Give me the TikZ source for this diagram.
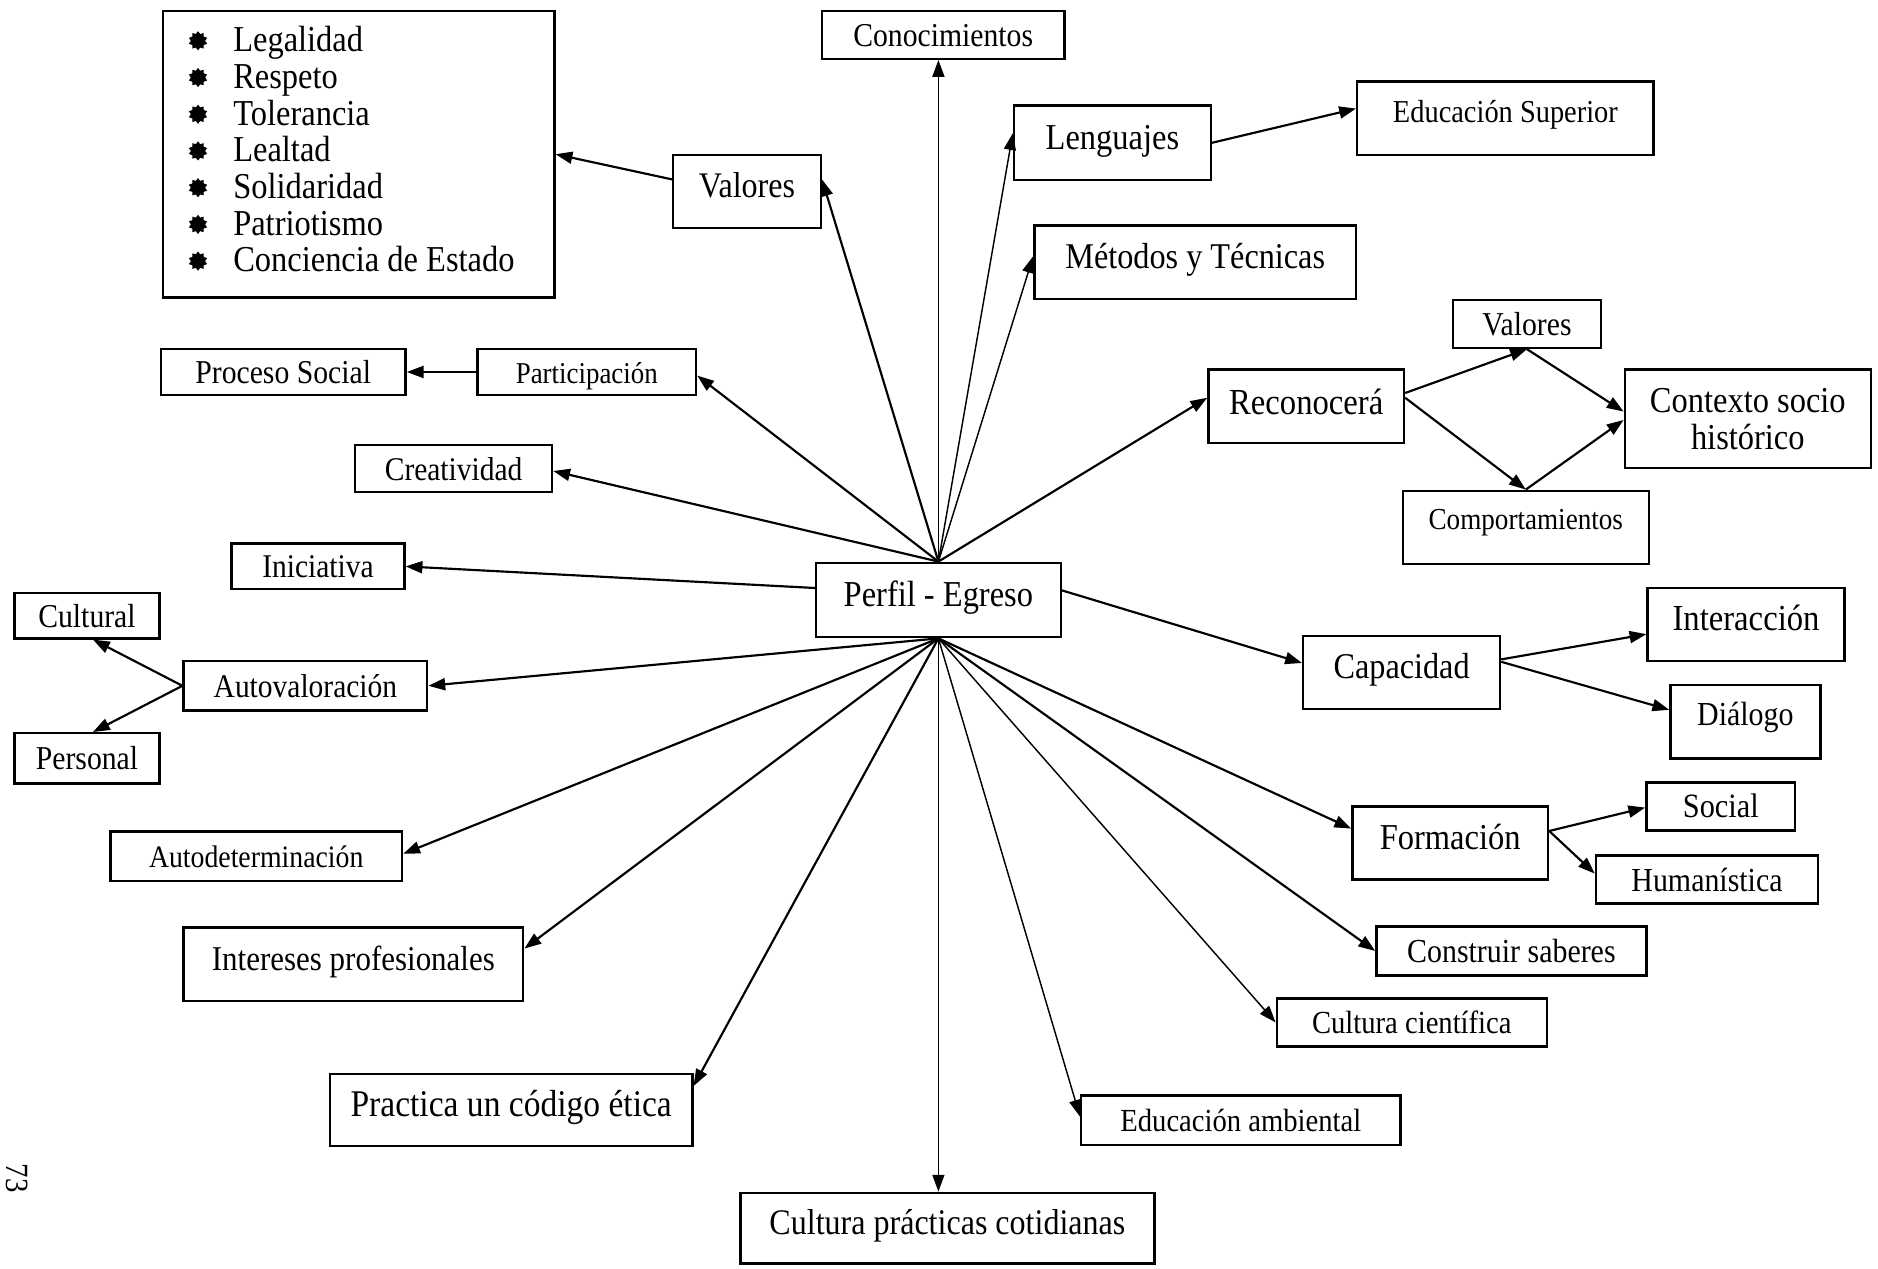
\documentclass[tikz,border=0pt]{standalone}
\usepackage{fontspec}
\setmainfont{Liberation Serif}[FakeStretch=0.89]
\usetikzlibrary{arrows.meta,shapes.geometric,calc}
\begin{document}
\begin{tikzpicture}[x=0.5pt,y=-0.5pt,
  bx/.style={draw, line width=1pt, inner sep=0pt, text height=0.72em, text depth=0.2em},
  low/.style={text height=1.16em},
  area/.style n args={4}{at={({(#1+#3)/2},{(#2+#4)/2})}, minimum width={(#3-#1)*0.5pt}, minimum height={(#4-#2)*0.5pt}},
  fs/.style={font=\fontsize{#1}{#1}\selectfont},
  con/.style={line width=0.9pt, -{Triangle[length=7pt,width=5pt]}},
  thinline/.style={line width=0.6pt},
  bul/.style={star, star points=10, star point ratio=1.35, fill, inner sep=0pt, minimum size=8pt},
  listitem/.style={anchor=base west, inner sep=0pt, fs=15.2}]
\useasboundingbox (0,0) rectangle (1565,1057.5);

% list of values
\node[bx, area={136}{9}{462}{248}] (lista) {};
\foreach \t [count=\i] in {Legalidad,Respeto,Tolerancia,Lealtad,Solidaridad,Patriotismo,Conciencia de Estado}{
  \pgfmathsetmacro\yy{34+30.6*(\i-1)}
  \node[bul] (bul\i) at (165,\yy) {};
  \node[listitem] (item\i) at (194,\yy+9) {\t};
}

% boxes
\node[bx, low, fs=13.9, area={685}{9}{887}{49}] (conoc) {Conocimientos};
\node[bx, fs=15.2, area={845}{88}{1009}{150}] (leng) {Lenguajes};
\node[bx, fs=13.3, text height=0.57em, area={1131}{68}{1378}{129}] (edsup) {Educación Superior};
\node[bx, fs=15.0, area={561}{129}{684}{190}] (valL) {Valores};
\node[bx, fs=15.1, area={862}{188}{1130}{249}] (metodos) {Métodos y Técnicas};
\node[bx, low, fs=13.9, area={1211}{250}{1334}{290}] (valS) {Valores};
\node[bx, low, fs=13.9, area={134}{291}{338}{329}] (procsoc) {Proceso Social};
\node[bx, low, fs=12.6, area={398}{291}{580}{329}] (partic) {Participación};
\node[bx, fs=15.3, text height=0.9em, area={1007}{308}{1170}{369}] (recon) {Reconocerá};
\node[draw, line width=1pt, inner sep=0pt, align=center, font=\fontsize{15.2}{15.5}\selectfont, area={1354}{308}{1559}{390}] (ctx) {Contexto socio\\histórico};
\node[bx, low, fs=13.8, area={296}{371}{460}{410}] (creat) {Creatividad};
\node[bx, fs=12.7, text height=0.41em, area={1169}{409}{1374}{470}] (comport) {Comportamientos};
\node[bx, low, fs=13.8, area={193}{453}{337}{491}] (inic) {Iniciativa};
\node[bx, fs=15.2, area={680}{469}{884}{531}] (perfil) {Perfil - Egreso};
\node[bx, low, fs=13.9, area={12}{494}{133}{532}] (cultural) {Cultural};
\node[bx, fs=15.1, area={1086}{530}{1250}{591}] (capac) {Capacidad};
\node[bx, fs=15.3, area={1373}{490}{1537}{551}] (interac) {Interacción};
\node[bx, low, fs=13.8, area={153}{551}{356}{592}] (autoval) {Autovaloración};
\node[bx, fs=14.0, text height=0.5em, area={1392}{571}{1517}{632}] (dialogo) {Diálogo};
\node[bx, low, fs=13.9, area={12}{611}{133}{653}] (personal) {Personal};
\node[bx, fs=15.2, area={1127}{672}{1290}{733}] (form) {Formación};
\node[bx, low, fs=14.2, area={1372}{652}{1496}{692}] (social) {Social};
\node[bx, low, fs=14.0, area={1330}{713}{1515}{753}] (human) {Humanística};
\node[bx, low, fs=13.0, area={92}{693}{335}{734}] (autodet) {Autodeterminación};
\node[bx, low, fs=14.0, area={1147}{772}{1372}{813}] (constr) {Construir saberes};
\node[bx, fs=14.5, area={153}{773}{436}{834}] (inter) {Intereses profesionales};
\node[bx, low, fs=13.4, area={1064}{832}{1289}{872}] (cultc) {Cultura científica};
\node[bx, fs=15.7, area={275}{895}{577}{955}] (practica) {Practica un código ética};
\node[bx, low, fs=13.4, area={901}{913}{1167}{954}] (edamb) {Educación ambiental};
\node[bx, fs=15.0, area={617}{994}{962}{1053}] (cultp) {Cultura prácticas cotidianas};

\node[rotate=-90, fs=13.5, inner sep=0pt] (pagina) at (14,982) {73};

% connectors from Perfil - Egreso (upwards)
\draw[con, thinline] (perfil.north) -- (perfil.north |- conoc.south);
\draw[con] (perfil.north) -- ([shift={(0,-10)}]valL.east);
\draw[con, thinline] (perfil.north) -- ([shift={(0,-8)}]leng.west);
\draw[con, thinline] (perfil.north) -- ([shift={(0,-5)}]metodos.west);
\draw[con] (perfil.north) -- ([shift={(0,3)}]partic.east);
\draw[con] (perfil.north) -- ([shift={(0,2)}]creat.east);
\draw[con] (perfil.north) -- ([shift={(0,-7)}]recon.west);
\draw[con] ([shift={(0,-10)}]perfil.west) -- (inic.east);
% connectors from Perfil - Egreso (downwards)
\draw[con] (perfil.south) -- (autoval.east);
\draw[con] (perfil.south) -- ([shift={(0,-2)}]autodet.east);
\draw[con] (perfil.south) -- ([shift={(0,-13)}]inter.east);
\draw[con] (perfil.south) -- ([shift={(0,-20)}]practica.east);
\draw[con, thinline] (perfil.south) -- (perfil.south |- cultp.north);
\draw[con, thinline] (perfil.south) -- ([shift={(0,-3)}]edamb.west);
\draw[con, thinline] (perfil.south) -- (cultc.west);
\draw[con] (perfil.south) -- (constr.west);
\draw[con] (perfil.south) -- ([shift={(0,-12)}]form.west);
\draw[con] ([shift={(0,-8)}]perfil.east) -- ([shift={(0,-8)}]capac.west);

% secondary connectors
\draw[con] ([shift={(0,-10)}]valL.west) -- (lista.east);
\draw[con] (partic.west) -- (procsoc.east);
\draw[con] (leng.east) -- ([shift={(0,-8)}]edsup.west);
\draw[con] ([shift={(0,-11)}]recon.east) -- (valS.south);
\draw[con] ([shift={(0,-7)}]recon.east) -- (comport.north);
\draw[con] (valS.south) -- ([shift={(0,-6)}]ctx.west);
\draw[con] (comport.north) -- ([shift={(0,1)}]ctx.west);
\draw[con] ([shift={(0,-11)}]capac.east) -- ([shift={(0,8)}]interac.west);
\draw[con] ([shift={(0,-9)}]capac.east) -- ([shift={(0,-10)}]dialogo.west);
\draw[con] ([shift={(0,-10)}]form.east) -- ([shift={(0,1)}]social.west);
\draw[con] ([shift={(0,-10)}]form.east) -- ([shift={(0,-5)}]human.west);
\draw[con] (autoval.west) -- ([shift={(5,0)}]cultural.south);
\draw[con] (autoval.west) -- ([shift={(5,0)}]personal.north);
\end{tikzpicture}
\end{document}
